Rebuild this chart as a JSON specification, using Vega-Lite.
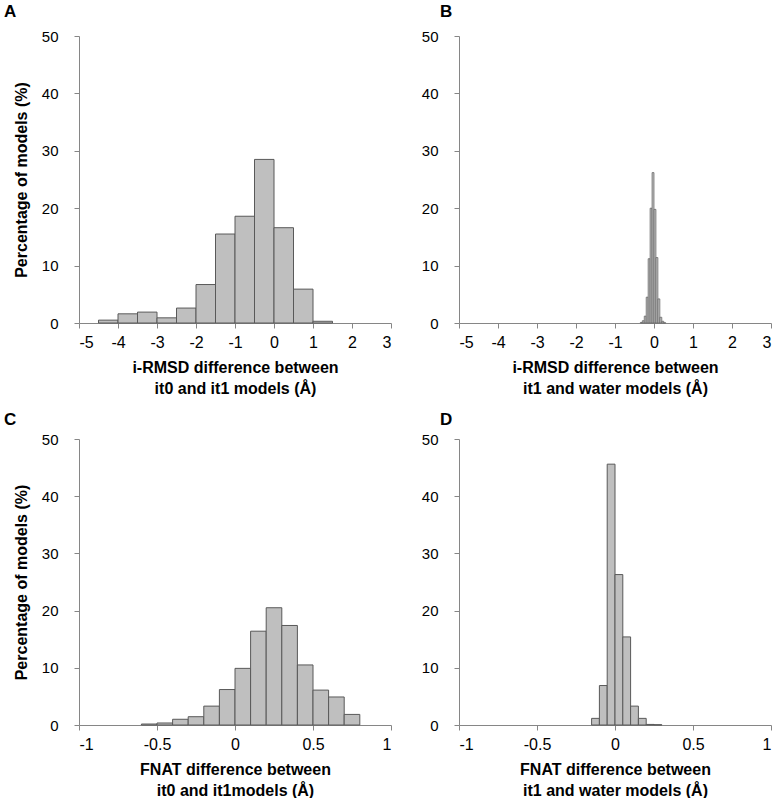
{
  "$schema": "https://vega.github.io/schema/vega-lite/v6.json",
  "padding": {"left": 4, "top": 3, "right": 5, "bottom": 0},
  "background": "white",
  "config": {
    "view": {"stroke": null},
    "font": "Liberation Sans",
    "axis": {
      "grid": false,
      "domainColor": "#868686",
      "tickColor": "#868686",
      "labelColor": "#000000",
      "titleColor": "#000000",
      "labelFont": "Liberation Sans",
      "titleFont": "Liberation Sans",
      "labelFontSize": 16,
      "titleFontSize": 16,
      "titleFontWeight": "bold",
      "tickSize": 5,
      "labelOverlap": false,
      "format": "~r",
      "labelExpr": "replace(datum.label, '\u2212', '-')"
    },
    "axisX": {"labelPadding": 6, "titlePadding": 9, "titleLineHeight": 21},
    "axisY": {"labelPadding": 16, "titlePadding": 12, "labelFontSize": 15},
    "title": {"font": "Liberation Sans", "fontSize": 17, "fontWeight": "bold", "anchor": "start", "frame": "group", "color": "#000000"}
  },
  "columns": 2,
  "bounds": "flush",
  "spacing": {"row": 116, "column": 68},
  "concat": [
    {
      "width": 312, "height": 287,
      "title": {"text": "A", "dx": -75, "offset": 8},
      "data": {"values": [
        {"start": -4.5, "end": -4.0, "pct": 0.5},
        {"start": -4.0, "end": -3.5, "pct": 1.6},
        {"start": -3.5, "end": -3.0, "pct": 1.9},
        {"start": -3.0, "end": -2.5, "pct": 0.9},
        {"start": -2.5, "end": -2.0, "pct": 2.6},
        {"start": -2.0, "end": -1.5, "pct": 6.7},
        {"start": -1.5, "end": -1.0, "pct": 15.5},
        {"start": -1.0, "end": -0.5, "pct": 18.6},
        {"start": -0.5, "end": 0.0, "pct": 28.5},
        {"start": 0.0, "end": 0.5, "pct": 16.6},
        {"start": 0.5, "end": 1.0, "pct": 5.9},
        {"start": 1.0, "end": 1.5, "pct": 0.3}
      ]},
      "mark": {"type": "bar", "fill": "#BFBFBF", "stroke": "#595959", "strokeWidth": 1},
      "encoding": {
        "x": {"field": "start", "type": "quantitative",
              "scale": {"domain": [-5, 3], "nice": false, "zero": false},
              "axis": {"values": [-5, -4, -3, -2, -1, 0, 1, 2, 3], "title": ["i-RMSD difference between", "it0 and it1 models (Å)"]}},
        "x2": {"field": "end"},
        "y": {"field": "pct", "type": "quantitative",
              "scale": {"domain": [0, 50], "nice": false},
              "axis": {"values": [0, 10, 20, 30, 40, 50], "title": "Percentage of models (%)"}},
        "y2": {"datum": 0}
      }
    },
    {
      "width": 312, "height": 287,
      "title": {"text": "B", "dx": -19, "offset": 8},
      "data": {"values": [
        {"start": -0.35, "end": -0.30, "pct": 0.1},
        {"start": -0.30, "end": -0.25, "pct": 0.4},
        {"start": -0.25, "end": -0.20, "pct": 1.2},
        {"start": -0.20, "end": -0.15, "pct": 4.5},
        {"start": -0.15, "end": -0.10, "pct": 11.2},
        {"start": -0.10, "end": -0.05, "pct": 20.0},
        {"start": -0.05, "end": 0.00, "pct": 26.2},
        {"start": 0.00, "end": 0.05, "pct": 19.8},
        {"start": 0.05, "end": 0.10, "pct": 11.4},
        {"start": 0.10, "end": 0.15, "pct": 4.2},
        {"start": 0.15, "end": 0.20, "pct": 1.0},
        {"start": 0.20, "end": 0.25, "pct": 0.3},
        {"start": 0.25, "end": 0.30, "pct": 0.05}
      ]},
      "mark": {"type": "bar", "fill": "#BFBFBF", "stroke": "#5E5E5E", "strokeWidth": 0.7},
      "encoding": {
        "x": {"field": "start", "type": "quantitative",
              "scale": {"domain": [-5, 3], "nice": false, "zero": false},
              "axis": {"values": [-5, -4, -3, -2, -1, 0, 1, 2, 3], "title": ["i-RMSD difference between", "it1 and water models (Å)"]}},
        "x2": {"field": "end"},
        "y": {"field": "pct", "type": "quantitative",
              "scale": {"domain": [0, 50], "nice": false},
              "axis": {"values": [0, 10, 20, 30, 40, 50], "title": null}},
        "y2": {"datum": 0}
      }
    },
    {
      "width": 312, "height": 286,
      "title": {"text": "C", "dx": -75, "offset": 3},
      "data": {"values": [
        {"start": -0.6, "end": -0.5, "pct": 0.17},
        {"start": -0.5, "end": -0.4, "pct": 0.35},
        {"start": -0.4, "end": -0.3, "pct": 1.0},
        {"start": -0.3, "end": -0.2, "pct": 1.45},
        {"start": -0.2, "end": -0.1, "pct": 3.3},
        {"start": -0.1, "end": 0.0, "pct": 6.2},
        {"start": 0.0, "end": 0.1, "pct": 9.9},
        {"start": 0.1, "end": 0.2, "pct": 16.4},
        {"start": 0.2, "end": 0.3, "pct": 20.5},
        {"start": 0.3, "end": 0.4, "pct": 17.4},
        {"start": 0.4, "end": 0.5, "pct": 10.5},
        {"start": 0.5, "end": 0.6, "pct": 6.1},
        {"start": 0.6, "end": 0.7, "pct": 4.9},
        {"start": 0.7, "end": 0.8, "pct": 1.85}
      ]},
      "mark": {"type": "bar", "fill": "#BFBFBF", "stroke": "#595959", "strokeWidth": 1},
      "encoding": {
        "x": {"field": "start", "type": "quantitative",
              "scale": {"domain": [-1, 1], "nice": false, "zero": false},
              "axis": {"values": [-1, -0.5, 0, 0.5, 1], "title": ["FNAT difference between", "it0 and it1models (Å)"]}},
        "x2": {"field": "end"},
        "y": {"field": "pct", "type": "quantitative",
              "scale": {"domain": [0, 50], "nice": false},
              "axis": {"values": [0, 10, 20, 30, 40, 50], "title": "Percentage of models (%)"}},
        "y2": {"datum": 0}
      }
    },
    {
      "width": 312, "height": 286,
      "title": {"text": "D", "dx": -19, "offset": 3},
      "data": {"values": [
        {"start": -0.15, "end": -0.10, "pct": 1.16},
        {"start": -0.10, "end": -0.05, "pct": 6.9},
        {"start": -0.05, "end": 0.00, "pct": 45.6},
        {"start": 0.00, "end": 0.05, "pct": 26.3},
        {"start": 0.05, "end": 0.10, "pct": 15.4},
        {"start": 0.10, "end": 0.15, "pct": 3.3},
        {"start": 0.15, "end": 0.20, "pct": 1.16},
        {"start": 0.20, "end": 0.25, "pct": 0.1},
        {"start": 0.25, "end": 0.30, "pct": 0.05}
      ]},
      "mark": {"type": "bar", "fill": "#BFBFBF", "stroke": "#595959", "strokeWidth": 1},
      "encoding": {
        "x": {"field": "start", "type": "quantitative",
              "scale": {"domain": [-1, 1], "nice": false, "zero": false},
              "axis": {"values": [-1, -0.5, 0, 0.5, 1], "title": ["FNAT difference between", "it1 and water models (Å)"]}},
        "x2": {"field": "end"},
        "y": {"field": "pct", "type": "quantitative",
              "scale": {"domain": [0, 50], "nice": false},
              "axis": {"values": [0, 10, 20, 30, 40, 50], "title": null}},
        "y2": {"datum": 0}
      }
    }
  ]
}
